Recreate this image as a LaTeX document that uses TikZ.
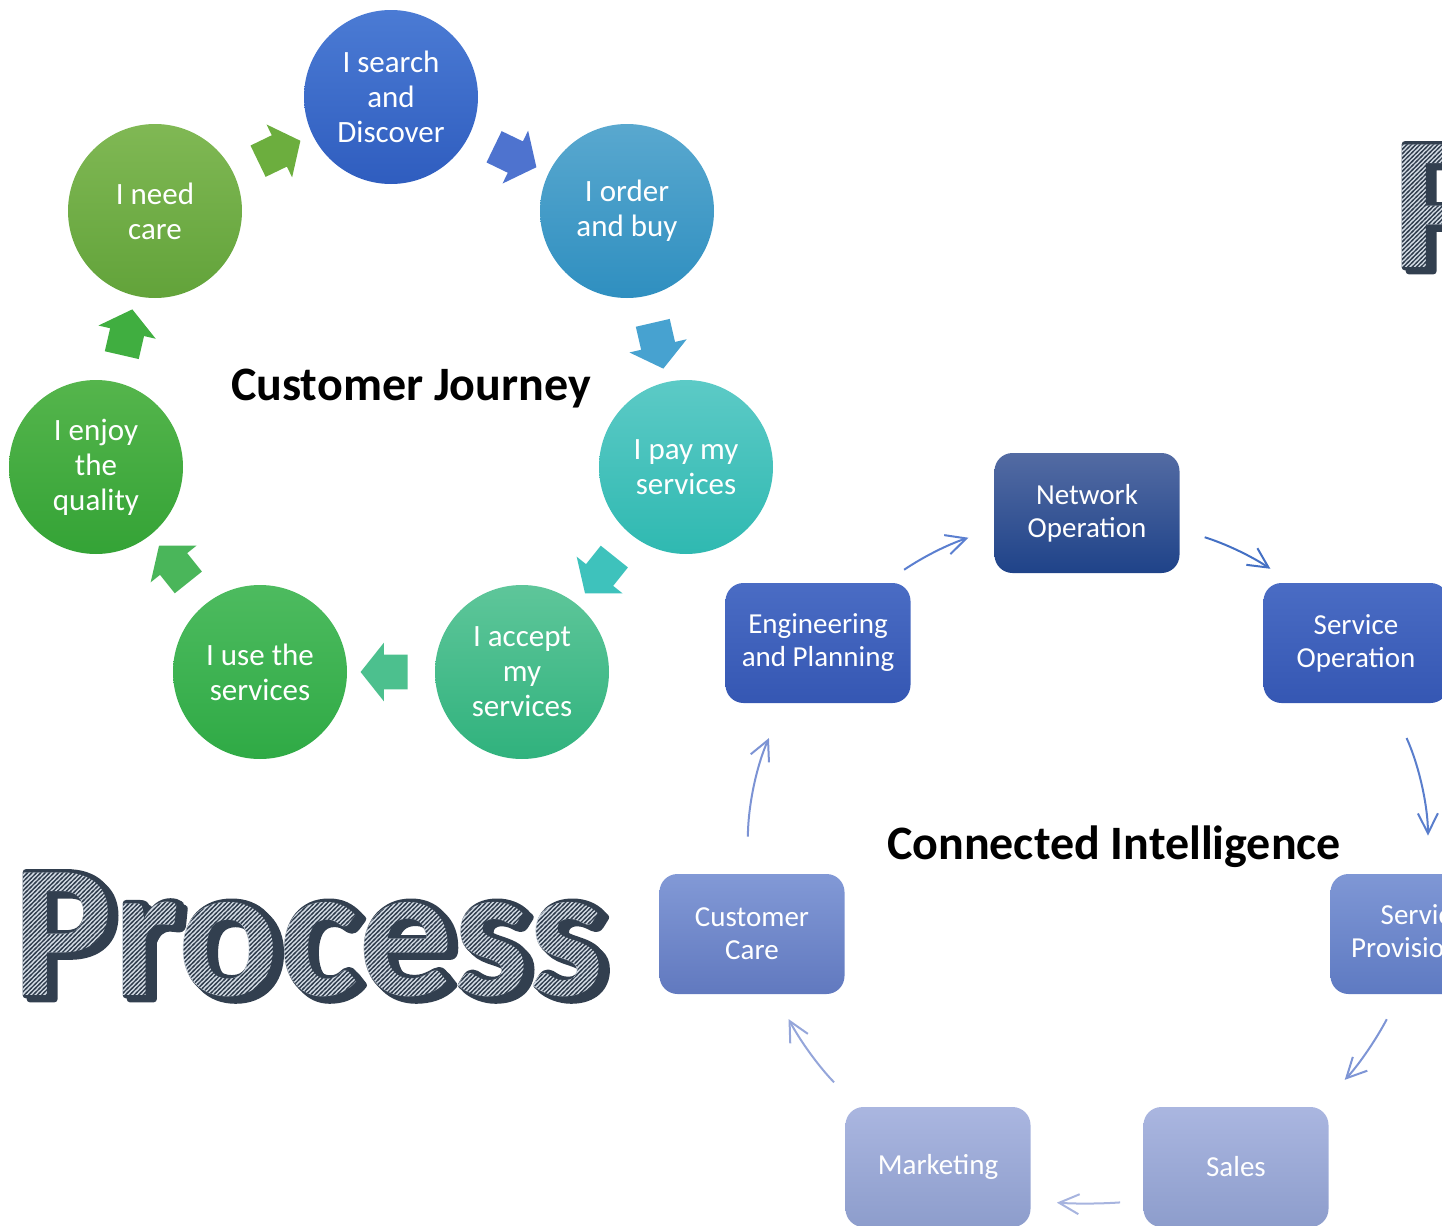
\documentclass[tikz,border=0pt]{standalone}
\usepackage{fontspec}
\setmainfont{Carlito}
\usetikzlibrary{shapes.arrows,arrows.meta,calc,patterns}

\definecolor{ink}{HTML}{323F4F}
\definecolor{paper}{HTML}{D5DDE6}

\pgfdeclarepatternformonly{hatchy}{\pgfpoint{-1pt}{-1pt}}{\pgfpoint{3.2pt}{3.2pt}}{\pgfpoint{2.2pt}{2.2pt}}{
    \pgfsetlinewidth{0.65pt}
    \pgfpathmoveto{\pgfpoint{-0.5pt}{-0.5pt}}
    \pgfpathlineto{\pgfpoint{2.7pt}{2.7pt}}
    \pgfusepath{stroke}
}

% glyphs filled and stroked (outline round the big words)
\makeatletter
\newcommand{\rimon}{\pgfsetlinewidth{3.4pt}\pgfsetroundjoin\pgfsys@invoke{2 Tr}}
\newcommand{\rimoff}{\pgfsys@invoke{0 Tr}}
\makeatother

\begin{document}
\begin{tikzpicture}[x=0.5pt, y=0.5pt,
    stage/.style={circle, minimum size=87pt, inner sep=0pt, text=white, align=center, font=\fontsize{15.5}{17.5}\selectfont},
    jump/.style={single arrow, sloped, allow upside down, minimum height=23.5pt, inner xsep=0pt, inner ysep=8.5pt, single arrow head extend=6pt, single arrow tip angle=103},
    unit/.style={rectangle, rounded corners=9pt, minimum width=92.5pt, minimum height=60pt, inner sep=0pt, text=white, align=center, font=\fontsize{14.5}{16.5}\selectfont},
    flow/.style={-{Straight Barb[length=10pt, width=10pt]}, line width=1pt},
    title/.style={anchor=base, inner sep=0pt, font=\fontsize{24}{28}\selectfont\bfseries},
    big/.style={anchor=base west, inner sep=0pt, font=\fontsize{94.5}{94.5}\selectfont\bfseries}]

    \useasboundingbox (0,0) rectangle (1442,-1226);
    \clip (0,0) rectangle (1442,-1226);

    % customer journey
    \node[stage, top color={rgb,255:red,75;green,123;blue,212}, bottom color={rgb,255:red,47;green,93;blue,191}] (search) at (391,-97) {I search\\and\\Discover};
    \node[stage, top color={rgb,255:red,89;green,168;blue,207}, bottom color={rgb,255:red,47;green,143;blue,192}] (order) at (627,-211) {I order\\and buy};
    \node[stage, top color={rgb,255:red,92;green,202;blue,198}, bottom color={rgb,255:red,47;green,185;blue,177}] (pay) at (686,-467) {I pay my\\services};
    \node[stage, top color={rgb,255:red,94;green,198;blue,154}, bottom color={rgb,255:red,48;green,178;blue,125}] (accept) at (522,-672) {I accept\\my\\services};
    \node[stage, top color={rgb,255:red,77;green,187;blue,95}, bottom color={rgb,255:red,47;green,170;blue,69}] (use) at (260,-672) {I use the\\services};
    \node[stage, top color={rgb,255:red,85;green,181;blue,76}, bottom color={rgb,255:red,52;green,163;blue,54}] (enjoy) at (96,-467) {I enjoy\\the\\quality};
    \node[stage, top color={rgb,255:red,128;green,184;blue,84}, bottom color={rgb,255:red,98;green,163;blue,58}] (need) at (155,-211) {I need\\care};

    \path (need) -- node[jump, fill={rgb,255:red,108;green,174;blue,62}] (j1) {} (search);
    \path (search) -- node[jump, fill={rgb,255:red,78;green,115;blue,207}] (j2) {} (order);
    \path (order) -- node[jump, fill={rgb,255:red,71;green,162;blue,208}] (j3) {} (pay);
    \path (pay) -- node[jump, fill={rgb,255:red,62;green,194;blue,188}] (j4) {} (accept);
    \path (accept) -- node[jump, fill={rgb,255:red,76;green,192;blue,142}] (j5) {} (use);
    \path (use) -- node[jump, fill={rgb,255:red,74;green,182;blue,90}] (j6) {} (enjoy);
    \path (enjoy) -- node[jump, fill={rgb,255:red,64;green,174;blue,64}] (j7) {} (need);

    \node[title] (cj) at (411,-400) {Customer Journey};

    % connected intelligence
    \node[unit, top color={rgb,255:red,83;green,107;blue,163}, bottom color={rgb,255:red,31;green,67;blue,137}] (net) at (1087,-513) {Network\\Operation};
    \node[unit, top color={rgb,255:red,74;green,108;blue,196}, bottom color={rgb,255:red,53;green,87;blue,179}] (eng) at (818,-643) {Engineering\\and Planning};
    \node[unit, top color={rgb,255:red,74;green,108;blue,196}, bottom color={rgb,255:red,53;green,87;blue,179}] (servop) at (1356,-643) {Service\\Operation};
    \node[unit, top color={rgb,255:red,127;green,151;blue,213}, bottom color={rgb,255:red,94;green,122;blue,194}] (prov) at (1423,-934) {Service\\Provisioning};
    \node[unit, top color={rgb,255:red,130;green,153;blue,214}, bottom color={rgb,255:red,97;green,121;blue,191}] (care) at (752,-934) {Customer\\Care};
    \node[unit, top color={rgb,255:red,170;green,182;blue,224}, bottom color={rgb,255:red,141;green,157;blue,204}] (sales) at (1236,-1167) {Sales};
    \node[unit, top color={rgb,255:red,170;green,182;blue,224}, bottom color={rgb,255:red,141;green,157;blue,204}] (mkt) at (938,-1167) {Marketing};

    \draw[flow, draw={rgb,255:red,91;green,127;blue,208}, shorten <=11.5pt, shorten >=13.5pt] (eng.42) to[bend left=8] (net.190);
    \draw[flow, draw={rgb,255:red,68;green,112;blue,196}, shorten <=13pt, shorten >=12.5pt] (net.-10) to[bend left=8] (servop.137.5);
    \draw[flow, draw={rgb,255:red,90;green,126;blue,204}, shorten <=19pt, shorten >=19pt] (servop.-60) to[bend left=12] (prov.85);
    \draw[flow, draw={rgb,255:red,126;green,149;blue,213}, shorten <=14pt, shorten >=18.5pt] (prov.249) to[bend left=8] (sales.36.7);
    \draw[flow, draw={rgb,255:red,167;green,180;blue,223}, shorten <=11.5pt, shorten >=13pt] (sales.200) to[bend left=4] (mkt.-20);
    \draw[flow, draw={rgb,255:red,149;green,166;blue,218}, shorten <=17pt, shorten >=14pt] (mkt.143.5) to[bend left=8] (care.-69.6);
    \draw[flow, draw={rgb,255:red,124;green,147;blue,212}, shorten <=18.5pt, shorten >=19pt] (care.94.7) to[bend left=12] (eng.241.5);

    \node[title] (ci) at (1114,-859) {Connected Intelligence};

    % big words: shadow, outline, light fill, hatch
    \node[big, text=ink] (procshade) at ($(12,-995)+(2pt,-2pt)$) {\rimon Process\rimoff};
    \node[big, text=ink] (procrim) at (12,-995) {\rimon Process\rimoff};
    \node[big, text=paper] (proc) at (12,-995) {Process};
    \node[big] (prochatch) at (12,-995) {\pgfsetfillpattern{hatchy}{ink}Process};

    \node[big, text=ink] (pshade) at ($(1391,-267)+(2pt,-2pt)$) {\rimon P\rimoff};
    \node[big, text=ink] (prim) at (1391,-267) {\rimon P\rimoff};
    \node[big, text=paper] (p) at (1391,-267) {P};
    \node[big] (phatch) at (1391,-267) {\pgfsetfillpattern{hatchy}{ink}P};

\end{tikzpicture}
\end{document}
